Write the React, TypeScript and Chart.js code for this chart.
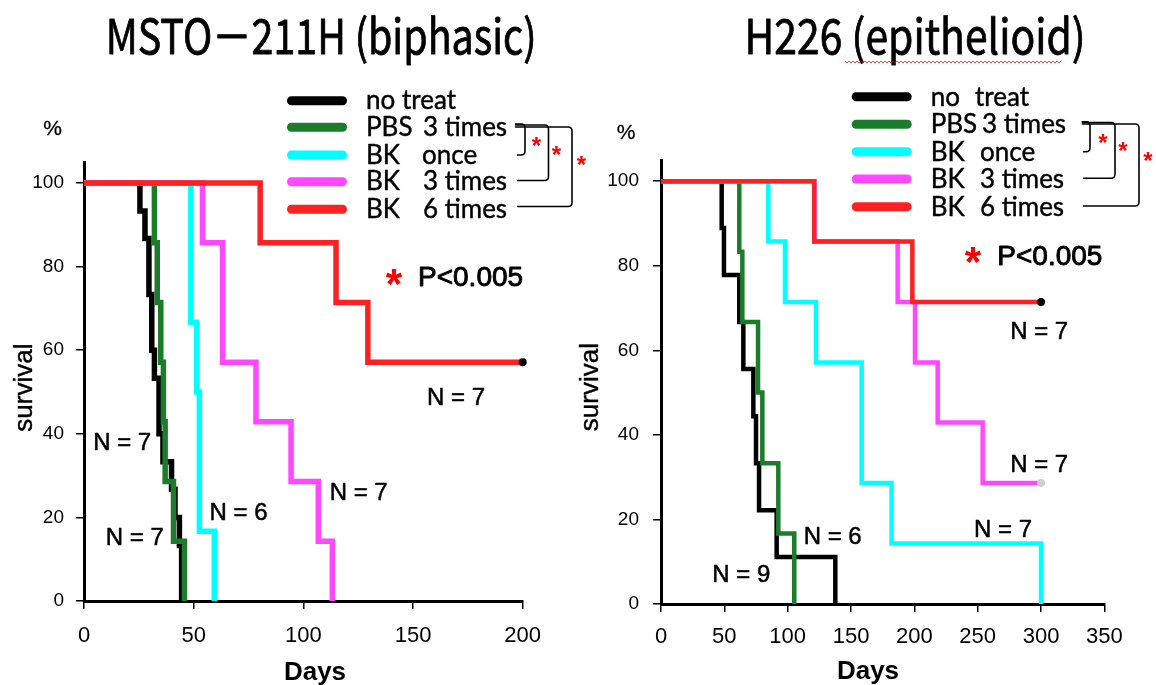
import React, { useEffect, useRef } from "react";
import { Chart, registerables } from "chart.js";
Chart.register(...registerables);

// ---------- text ----------
const TITLE_L = "MSTO－211H (biphasic)";
const TITLE_R = "H226 (epithelioid)";
const SERIES_LABELS = ["no treat", "PBS 3 times", "BK once", "BK 3 times", "BK 6 times"];
const LEG_L = [["no treat"], ["PBS", "3 times"], ["BK", "once"], ["BK", "3 times"], ["BK", "6 times"]];
const LEG_R = [["no", "treat"], ["PBS", "3 times"], ["BK", "once"], ["BK", "3 times"], ["BK", "6 times"]];
const N_L = ["N = 7", "N = 7", "N = 6", "N = 7", "N = 7"]; // no treat, PBS, BK once, BK 3, BK 6
const N_R = ["N = 9", "N = 6", "N = 7", "N = 7", "N = 7"];
const P_TEXT = "P<0.005";

// ---------- ticks ----------
const L_X_TICKS = [0, 50, 100, 150, 200];
const R_X_TICKS = [0, 50, 100, 150, 200, 250, 300, 350];
const Y_TICKS = [0, 20, 40, 60, 80, 100];

// ---------- left panel data (MSTO-211H) ----------
const L_NT_DAYS = [0, 25.5, 27.8, 29.6, 30.9, 32.1, 34.2, 36, 39.9, 41.5, 43.5, 44.5];
const L_NT_SURV = [100, 93.3, 86.7, 73.3, 60, 53.3, 40, 33.3, 26.7, 20, 13.3, 0];
const L_PBS_DAYS = [0, 32.1, 33.4, 35, 36.2, 37, 40.8, 45.8];
const L_PBS_SURV = [100, 85.7, 71.4, 57.1, 42.9, 28.6, 14.3, 0];
const L_BK1_DAYS = [0, 48.7, 51.4, 52.6, 59.4];
const L_BK1_SURV = [100, 66.7, 50, 16.7, 0];
const L_BK3_DAYS = [0, 54, 63.2, 78.4, 94.4, 106.8, 113.2];
const L_BK3_SURV = [100, 85.7, 57.1, 42.9, 28.6, 14.3, 0];
const L_BK6_DAYS = [0, 80.3, 114.9, 129.4, 200];
const L_BK6_SURV = [100, 85.7, 71.4, 57.1, 57.1];

// ---------- right panel data (H226) ----------
const R_NT_DAYS = [0, 47.9, 49.7, 61.8, 65, 72.9, 75, 77.4, 91.3, 137.6];
const R_NT_SURV = [100, 88.9, 77.8, 66.7, 55.6, 44.4, 33.3, 22.2, 11.1, 0];
const R_PBS_DAYS = [0, 61.8, 64.2, 76.6, 80, 92.6, 105.2];
const R_PBS_SURV = [100, 83.3, 66.7, 50, 33.3, 16.7, 0];
const R_BK1_DAYS = [0, 84.7, 97.9, 122.3, 158.4, 182, 300];
const R_BK1_SURV = [100, 85.7, 71.4, 57.1, 28.6, 14.3, 0];
const R_BK3_DAYS = [0, 121, 186.8, 200.5, 218.4, 253.9, 300];
const R_BK3_SURV = [100, 85.7, 71.4, 57.1, 42.9, 28.6, 28.6];
const R_BK6_DAYS = [0, 121, 198.4, 300];
const R_BK6_SURV = [100, 85.7, 71.4, 71.4];

const COLORS = ["#000000", "#1b7d2b", "#00ffff", "#ff48ff", "#ff2121"];
const ORDER = [4, 3, 2, 1, 0];

const SANS = '"Liberation Sans", Arial, sans-serif';
const LEGF = 'Lato, "Open Sans", sans-serif';
const TITLEF = '"Noto Sans CJK JP", sans-serif';

type Ctx = CanvasRenderingContext2D;

function heavy(ctx: Ctx, s: string, x: number, y: number, w: number) {
  ctx.fillText(s, x, y);
  if (w > 0) {
    ctx.save();
    ctx.lineWidth = w;
    ctx.strokeStyle = ctx.fillStyle as string;
    ctx.lineJoin = "round";
    ctx.strokeText(s, x, y);
    ctx.restore();
  }
}

function centerText(ctx: Ctx, s: string, cx: number, cy: number, w = 0) {
  ctx.textAlign = "left";
  ctx.textBaseline = "alphabetic";
  const m = ctx.measureText(s);
  const bw = m.actualBoundingBoxLeft + m.actualBoundingBoxRight;
  const h = m.actualBoundingBoxAscent + m.actualBoundingBoxDescent;
  heavy(ctx, s, cx - bw / 2 + m.actualBoundingBoxLeft, cy - h / 2 + m.actualBoundingBoxAscent, w);
}

function leftText(ctx: Ctx, s: string, left: number, cy: number, w = 0) {
  ctx.textAlign = "left";
  ctx.textBaseline = "alphabetic";
  const m = ctx.measureText(s);
  const h = m.actualBoundingBoxAscent + m.actualBoundingBoxDescent;
  heavy(ctx, s, left + m.actualBoundingBoxLeft, cy - h / 2 + m.actualBoundingBoxAscent, w);
}

function fitText(ctx: Ctx, s: string, left: number, right: number, baseline: number, w = 0) {
  ctx.textAlign = "left";
  ctx.textBaseline = "alphabetic";
  const m = ctx.measureText(s);
  const bw = m.actualBoundingBoxLeft + m.actualBoundingBoxRight;
  ctx.save();
  ctx.translate(left, baseline);
  ctx.scale((right - left) / bw, 1);
  heavy(ctx, s, m.actualBoundingBoxLeft, 0, w);
  ctx.restore();
}

function bracket(ctx: Ctx, x0: number, yTop: number, xr: number, yBot: number, xEnd: number) {
  const r = 4;
  ctx.beginPath();
  ctx.moveTo(x0, yTop);
  ctx.lineTo(xr - r, yTop);
  ctx.quadraticCurveTo(xr, yTop, xr, yTop + r);
  ctx.lineTo(xr, yBot - r);
  ctx.quadraticCurveTo(xr, yBot, xr - r, yBot);
  ctx.lineTo(xEnd, yBot);
  ctx.stroke();
}

type LegendSpec = {
  lx0: number; lx1: number; rows: number[]; col1: number; col2: number[]; base: number; labels: string[][];
};

function drawLegend(ctx: Ctx, L: LegendSpec) {
  ctx.lineCap = "round";
  ctx.lineWidth = 9;
  L.rows.forEach((y, i) => {
    ctx.strokeStyle = COLORS[i];
    ctx.beginPath();
    ctx.moveTo(L.lx0, y);
    ctx.lineTo(L.lx1, y);
    ctx.stroke();
  });
  ctx.lineCap = "butt";
  ctx.fillStyle = "#000";
  ctx.font = `26px ${LEGF}`;
  ctx.textAlign = "left";
  ctx.textBaseline = "alphabetic";
  L.rows.forEach((y, i) => {
    const lab = L.labels[i];
    heavy(ctx, lab[0], L.col1, y + L.base, 0.4);
    if (lab[1]) heavy(ctx, lab[1], L.col2[i], y + L.base, 0.4);
  });
}

function axisLabels(ctx: Ctx, pctX: number, pctY: number, survX: number, survY: number, daysX: number, daysBase: number) {
  ctx.fillStyle = "#000";
  ctx.font = `21px ${SANS}`;
  centerText(ctx, "%", pctX, pctY, 0.3);
  ctx.save();
  ctx.translate(survX, survY);
  ctx.rotate(-Math.PI / 2);
  ctx.font = `26px ${SANS}`;
  centerText(ctx, "survival", 0, 0, 0.4);
  ctx.restore();
  ctx.font = `bold 26px ${SANS}`;
  ctx.textAlign = "center";
  ctx.textBaseline = "alphabetic";
  ctx.fillText("Days", daysX, daysBase);
}

function annotateLeft(ctx: Ctx) {
  ctx.fillStyle = "#000";
  ctx.font = `48px ${TITLEF}`;
  fitText(ctx, TITLE_L, 109, 533, 53.5, 0.8);
  axisLabels(ctx, 52.3, 128.3, 22.5, 388, 315, 680);
  drawLegend(ctx, {
    lx0: 291.5, lx1: 342.5, rows: [100.7, 127.3, 155, 181.7, 209.3], col1: 366,
    col2: [0, 423, 422, 423, 423], base: 8.5, labels: LEG_L,
  });
  ctx.strokeStyle = "#000";
  ctx.lineWidth = 1.6;
  bracket(ctx, 515, 124, 525, 155, 517);
  bracket(ctx, 515, 125, 548.5, 180.5, 517);
  bracket(ctx, 515, 127, 572, 206.5, 517);
  ctx.fillStyle = "#ff0000";
  ctx.font = `bold 24px ${SANS}`;
  centerText(ctx, "*", 536.7, 141.7);
  centerText(ctx, "*", 556.7, 150);
  centerText(ctx, "*", 581.7, 160);
  ctx.font = `bold 42px ${SANS}`;
  centerText(ctx, "*", 394.3, 276.7);
  ctx.fillStyle = "#000";
  ctx.font = `28px ${SANS}`;
  leftText(ctx, P_TEXT, 420, 276.7, 0.9);
  ctx.font = `24px ${SANS}`;
  centerText(ctx, N_L[4], 456.4, 396.7, 0.5);
  centerText(ctx, N_L[3], 359, 491.7, 0.5);
  centerText(ctx, N_L[0], 122.5, 441.7, 0.5);
  centerText(ctx, N_L[1], 135.2, 536.7, 0.5);
  centerText(ctx, N_L[2], 238.8, 511.7, 0.5);
}

function annotateRight(ctx: Ctx) {
  ctx.fillStyle = "#000";
  ctx.font = `48px ${TITLEF}`;
  fitText(ctx, TITLE_R, 748, 1082, 54, 0.8);
  // spell-check style wavy underline
  ctx.strokeStyle = "rgba(255,0,0,0.75)";
  ctx.lineWidth = 1;
  ctx.beginPath();
  for (let x = 845, k = 0; x <= 1062; x += 2, k++) {
    const y = 62 + (k % 2 === 0 ? -1 : 1);
    if (k === 0) ctx.moveTo(x, y); else ctx.lineTo(x, y);
  }
  ctx.stroke();
  axisLabels(ctx, 625.8, 131.7, 588.5, 387.5, 868, 678.5);
  drawLegend(ctx, {
    lx0: 856.2, lx1: 907.2, rows: [96.7, 124.3, 151.7, 179, 206.7], col1: 930.7,
    col2: [975, 982, 980, 980, 980], base: 9, labels: LEG_R,
  });
  ctx.strokeStyle = "#000";
  ctx.lineWidth = 1.6;
  bracket(ctx, 1081.7, 121.7, 1090, 151.7, 1083);
  bracket(ctx, 1081.7, 122.5, 1115, 178.3, 1083);
  bracket(ctx, 1081.7, 124, 1139, 206, 1083);
  ctx.fillStyle = "#ff0000";
  ctx.font = `bold 24px ${SANS}`;
  centerText(ctx, "*", 1103.3, 138.3);
  centerText(ctx, "*", 1123.3, 146.7);
  centerText(ctx, "*", 1148.3, 156);
  ctx.font = `bold 42px ${SANS}`;
  centerText(ctx, "*", 973.3, 255);
  ctx.fillStyle = "#000";
  ctx.font = `28px ${SANS}`;
  leftText(ctx, P_TEXT, 999.3, 255, 0.9);
  ctx.font = `24px ${SANS}`;
  centerText(ctx, N_R[4], 1039.5, 330, 0.5);
  centerText(ctx, N_R[3], 1039.5, 463.3, 0.5);
  centerText(ctx, N_R[2], 1003.3, 528.3, 0.5);
  centerText(ctx, N_R[1], 833, 535, 0.5);
  centerText(ctx, N_R[0], 741.7, 573.3, 0.5);
}

type Panel = {
  offsetX: number;
  width: number;
  xMax: number;
  xTicks: number[];
  days: number[][];
  surv: number[][];
  dots: (string | null)[];
  lineWidth: number;
  area: { left: number; right: number; top: number; bottom: number };
  yPad: number;
  xPad: number;
  annotate: (ctx: Ctx) => void;
};

const PANELS: Panel[] = [
  {
    offsetX: 0, width: 600, xMax: 200, xTicks: L_X_TICKS,
    days: [L_NT_DAYS, L_PBS_DAYS, L_BK1_DAYS, L_BK3_DAYS, L_BK6_DAYS],
    surv: [L_NT_SURV, L_PBS_SURV, L_BK1_SURV, L_BK3_SURV, L_BK6_SURV],
    dots: [null, null, null, null, "#000000"],
    lineWidth: 5.5,
    area: { left: 84, right: 522.7, top: 162, bottom: 601 },
    yPad: 12, xPad: 14,
    annotate: annotateLeft,
  },
  {
    offsetX: 578, width: 578, xMax: 350, xTicks: R_X_TICKS,
    days: [R_NT_DAYS, R_PBS_DAYS, R_BK1_DAYS, R_BK3_DAYS, R_BK6_DAYS],
    surv: [R_NT_SURV, R_PBS_SURV, R_BK1_SURV, R_BK3_SURV, R_BK6_SURV],
    dots: [null, null, null, "#cfcfcf", "#000000"],
    lineWidth: 4.5,
    area: { left: 661, right: 1104.4, top: 160, bottom: 604 },
    yPad: 14, xPad: 12,
    annotate: annotateRight,
  },
];

function PanelChart({ p }: { p: Panel }) {
  const ref = useRef<HTMLCanvasElement | null>(null);
  useEffect(() => {
    if (!ref.current) return;
    const datasets = p.days.map((d, i) => ({
      label: SERIES_LABELS[i],
      data: d.map((x, j) => ({ x, y: p.surv[i][j] })),
      borderColor: COLORS[i],
      backgroundColor: COLORS[i],
      borderWidth: p.lineWidth,
      stepped: "before" as const,
      fill: false,
      tension: 0,
      order: ORDER[i],
      clip: 10,
      pointRadius: (c: any) => (p.dots[i] && c.dataIndex === d.length - 1 ? 4 : 0),
      pointHoverRadius: 0,
      pointBorderWidth: 0,
      pointBackgroundColor: p.dots[i] || COLORS[i],
      borderJoinStyle: "miter" as const,
    }));
    const tickFont = { family: SANS, size: 22 };
    const chart = new Chart(ref.current, {
      type: "line",
      data: { datasets: datasets as any },
      options: {
        animation: false,
        responsive: false,
        maintainAspectRatio: false,
        events: [],
        layout: {
          padding: {
            left: 0,
            right: p.width - (p.area.right - p.offsetX),
            top: p.area.top,
            bottom: 0,
          },
        },
        plugins: { legend: { display: false }, tooltip: { enabled: false }, title: { display: false } },
        scales: {
          x: {
            type: "linear",
            min: 0,
            max: p.xMax,
            afterBuildTicks: (s: any) => { s.ticks = p.xTicks.map((v) => ({ value: v })); },
            afterFit: (s: any) => { s.height = 685 - p.area.bottom; },
            grid: { display: true, drawOnChartArea: false, drawTicks: true, tickLength: 8, color: "#000", lineWidth: 1.5 },
            border: { display: true, color: "#000", width: 3 },
            ticks: { color: "#000", font: tickFont, padding: p.xPad, maxRotation: 0, autoSkip: false },
          },
          y: {
            type: "linear",
            min: 0,
            max: 105,
            afterBuildTicks: (s: any) => { s.ticks = Y_TICKS.map((v) => ({ value: v })); },
            afterFit: (s: any) => { s.width = p.area.left - p.offsetX; },
            grid: { display: true, drawOnChartArea: false, drawTicks: true, tickLength: 8, color: "#000", lineWidth: 1.5 },
            border: { display: true, color: "#000", width: 3 },
            ticks: { color: "#000", font: { family: SANS, size: 19 }, padding: p.yPad, autoSkip: false },
          },
        },
      },
      plugins: [
        {
          id: "annot",
          afterDraw(c: any) {
            const ctx = c.ctx as Ctx;
            ctx.save();
            ctx.translate(-p.offsetX, 0);
            p.annotate(ctx);
            ctx.restore();
          },
        },
      ],
    });
    return () => chart.destroy();
  }, [p]);
  return (
    <canvas
      ref={ref}
      width={p.width}
      height={685}
      style={{ position: "absolute", left: p.offsetX, top: 0, width: p.width, height: 685 }}
    />
  );
}

export default function App() {
  useEffect(() => {
    document.body.style.margin = "0";
    document.body.style.background = "#fff";
  }, []);
  return (
    <div style={{ position: "fixed", left: 0, top: 0, width: 1156, height: 685, background: "#fff", overflow: "hidden" }}>
      {PANELS.map((p, i) => (
        <PanelChart key={i} p={p} />
      ))}
    </div>
  );
}
